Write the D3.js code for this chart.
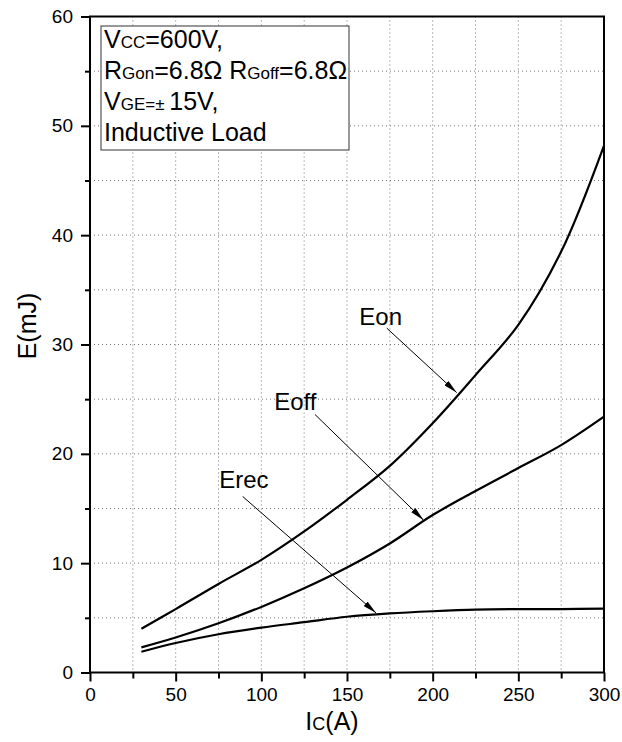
<!DOCTYPE html>
<html>
<head>
<meta charset="utf-8">
<script src="https://cdn.jsdelivr.net/npm/d3@7"></script>
<style>
  body { margin: 0; background: #fff; }
  text { font-family: Arial, "Liberation Sans", sans-serif; fill: #000; }
</style>
</head>
<body>
<div id="chart"></div>
<script>
const WIDTH = 622;
const HEIGHT = 742;

// === DATA ===
const ic = [30, 50, 75, 100, 125, 150, 175, 200, 225, 250, 275, 300];
const eon = [4.0, 5.8, 8.1, 10.3, 12.9, 15.8, 18.9, 22.8, 27.2, 31.8, 38.5, 48.2];
const eoff = [2.3, 3.2, 4.5, 6.0, 7.7, 9.6, 11.8, 14.4, 16.6, 18.7, 20.8, 23.4];
const erec = [1.9, 2.7, 3.5, 4.1, 4.6, 5.1, 5.4, 5.6, 5.75, 5.8, 5.8, 5.85];

const xTicks = [0, 50, 100, 150, 200, 250, 300];
const yTicks = [0, 10, 20, 30, 40, 50, 60];

// annotation labels, arrow tail, arrow head (data units)
const annoNames = ["Eon", "Eoff", "Erec"];
const annoText = [[157.2, 31.8], [107.5, 24.0], [75.4, 16.9]];
const annoFrom = [[173.2, 31.5], [131.3, 23.6], [89.1, 16.1]];
const annoTo = [[214, 25.6], [194.6, 13.95], [167, 5.44]];

// === SETUP ===
const M = { left: 90, right: 604, top: 16.5, bottom: 672.5 };

const x = d3.scaleLinear().domain([0, 300]).range([M.left, M.right]);
const y = d3.scaleLinear().domain([0, 60]).range([M.bottom, M.top]);

const svg = d3.select("#chart")
    .append("svg")
    .attr("width", WIDTH)
    .attr("height", HEIGHT);

svg.append("defs").append("marker")
    .attr("id", "arrow")
    .attr("markerUnits", "userSpaceOnUse")
    .attr("viewBox", "0 0 14 6")
    .attr("refX", 14)
    .attr("refY", 3)
    .attr("markerWidth", 14)
    .attr("markerHeight", 6)
    .attr("orient", "auto")
    .append("path")
    .attr("d", "M0,0L14,3L0,6Z")
    .attr("fill", "#000");

// === GRID ===
const grid = svg.append("g");
grid.selectAll(".gx")
    .data(d3.range(25, 300, 25))
    .enter()
    .append("line")
    .attr("x1", d => x(d))
    .attr("x2", d => x(d))
    .attr("y1", M.top)
    .attr("y2", M.bottom)
    .attr("stroke", "#777")
    .attr("stroke-dasharray", "1,3");

grid.selectAll(".gy")
    .data(d3.range(5, 60, 5))
    .enter()
    .append("line")
    .attr("y1", d => y(d))
    .attr("y2", d => y(d))
    .attr("x1", M.left)
    .attr("x2", M.right)
    .attr("stroke", "#777")
    .attr("stroke-dasharray", "1,3");

// === AXES ===
const xMinor = svg.append("g")
    .attr("transform", `translate(0,${M.bottom})`)
    .call(d3.axisBottom(x).tickValues(d3.range(25, 300, 50)).tickSize(6).tickFormat(""));
const xAxis = svg.append("g")
    .attr("transform", `translate(0,${M.bottom})`)
    .call(d3.axisBottom(x).tickValues(xTicks).tickSize(9).tickPadding(6));

const yMinor = svg.append("g")
    .attr("transform", `translate(${M.left},0)`)
    .call(d3.axisLeft(y).tickValues(d3.range(5, 60, 10)).tickSize(5).tickFormat(""));
const yAxis = svg.append("g")
    .attr("transform", `translate(${M.left},0)`)
    .call(d3.axisLeft(y).tickValues(yTicks).tickSize(9).tickPadding(8));

[xMinor, xAxis, yMinor, yAxis].forEach(a => {
    a.select(".domain").remove();
    a.selectAll(".tick line").attr("stroke", "#000").attr("stroke-width", 2);
    a.selectAll(".tick text").style("font-size", "19px").style("font-family", "Arial, 'Liberation Sans', sans-serif");
});

// frame
svg.append("rect")
    .attr("x", M.left)
    .attr("y", M.top)
    .attr("width", M.right - M.left)
    .attr("height", M.bottom - M.top)
    .attr("fill", "none")
    .attr("stroke", "#000")
    .attr("stroke-width", 2);

// titles
const xt = svg.append("text")
    .attr("x", 332)
    .attr("y", 730)
    .attr("text-anchor", "middle")
    .style("font-size", "25px");
xt.append("tspan").text("I");
xt.append("tspan").style("font-size", "18px").text("C");
xt.append("tspan").text("(A)");

svg.append("text")
    .attr("transform", "translate(36,326) rotate(-90)")
    .attr("text-anchor", "middle")
    .style("font-size", "25px")
    .text("E(mJ)");

// === CURVES ===
const line = d3.line()
    .x(d => x(d[0]))
    .y(d => y(d[1]))
    .curve(d3.curveCatmullRom.alpha(0.5));

[eon, eoff, erec].forEach(series => {
    svg.append("path")
        .datum(ic.map((v, i) => [v, series[i]]))
        .attr("d", line)
        .attr("fill", "none")
        .attr("stroke", "#000")
        .attr("stroke-width", 2.2);
});

// === ANNOTATIONS ===
annoNames.forEach((name, i) => {
    svg.append("line")
        .attr("x1", x(annoFrom[i][0]))
        .attr("y1", y(annoFrom[i][1]))
        .attr("x2", x(annoTo[i][0]))
        .attr("y2", y(annoTo[i][1]))
        .attr("stroke", "#000")
        .attr("stroke-width", 1)
        .attr("marker-end", "url(#arrow)");

    svg.append("text")
        .attr("x", x(annoText[i][0]))
        .attr("y", y(annoText[i][1]))
        .style("font-size", "24px")
        .text(name);
});

// === LEGEND BOX ===
svg.append("rect")
    .attr("x", 101)
    .attr("y", 26)
    .attr("width", 248)
    .attr("height", 124)
    .attr("fill", "#fff")
    .attr("stroke", "#333")
    .attr("stroke-width", 1);

const legendLines = [
    [["V", 1], ["CC", 0], ["=600V,", 1]],
    [["R", 1], ["Gon", 0], ["=6.8Ω ", 1], ["R", 1], ["Goff", 0], ["=6.8Ω", 1]],
    [["V", 1], ["GE=± ", 0], ["15V,", 1]],
    [["Inductive Load", 1]]
];

legendLines.forEach((parts, i) => {
    const t = svg.append("text")
        .attr("x", 104)
        .attr("y", 48 + i * 31)
        .style("font-size", "25px");
    parts.forEach(p => {
        t.append("tspan")
            .style("font-size", p[1] ? "25px" : "17px")
            .text(p[0]);
    });
});
</script>
</body>
</html>
